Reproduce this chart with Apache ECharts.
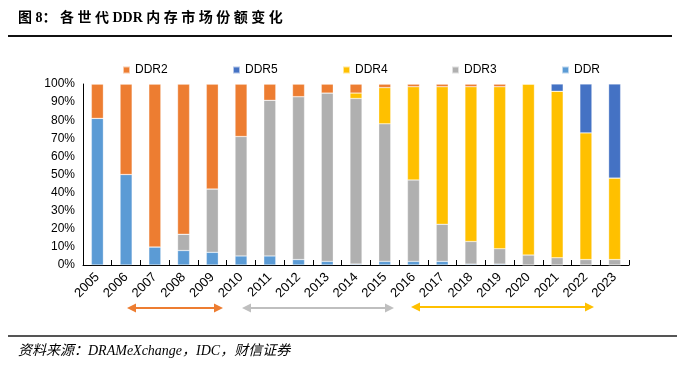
<!DOCTYPE html>
<html>
<head>
<meta charset="utf-8">
<script src="https://cdn.jsdelivr.net/npm/echarts@6/dist/echarts.min.js"></script>
<style>html,body{margin:0;padding:0;background:#fff}#c{width:677px;height:365px}</style>
</head>
<body>
<div id="c"></div>
<script>
var years = ['2005','2006','2007','2008','2009','2010','2011','2012','2013','2014','2015','2016','2017','2018','2019','2020','2021','2022','2023'];
var ddr  = [81,50,10,8,7,5,5,3,2,0.5,2,2,2,0.5,0.5,0,0,0,0];
var ddr3 = [0,0,0,9,35,66,86,90,93,91.5,76,45,20.5,12.5,8.5,5.5,4,3,3];
var ddr4 = [0,0,0,0,0,0,0,0,0,3,20,51.5,76,85.5,89.5,94.5,92,70,45];
var ddr2 = [19,50,90,83,58,29,9,7,5,5,2,1.5,1.5,1.5,1.5,0,0,0,0];
var ddr5 = [0,0,0,0,0,0,0,0,0,0,0,0,0,0,0,0,4,27,52];
var legendOrder = ['DDR2','DDR5','DDR4','DDR3','DDR'];
var titleText = '图 8： 各 世 代 DDR 内 存 市 场 份 额 变 化';
var sourceText = '资料来源：DRAMeXchange，IDC，财信证券';

var chart = echarts.init(document.getElementById('c'));
var latin = 'Liberation Sans, Arial, sans-serif';
function s(name, data, color) {
  return {name: name, type: 'bar', stack: 'all', data: data, barWidth: 12,
    itemStyle: {color: color, borderColor: 'rgba(255,255,255,0.6)', borderWidth: 0.5}};
}
function arrow(x1, x2, y, color) {
  return [
    {type: 'line', shape: {x1: x1 + 6, y1: y, x2: x2 - 6, y2: y}, style: {stroke: color, lineWidth: 2}},
    {type: 'polygon', shape: {points: [[x1, y], [x1 + 9, y - 4.5], [x1 + 9, y + 4.5]]}, style: {fill: color}},
    {type: 'polygon', shape: {points: [[x2, y], [x2 - 9, y - 4.5], [x2 - 9, y + 4.5]]}, style: {fill: color}}
  ];
}
var graphics = [
  {type: 'text', left: 18, top: 11, style: {text: titleText, font: 'bold 14px "Liberation Serif", "Noto Sans CJK SC", serif', fill: '#000'}},
  {type: 'line', shape: {x1: 8, y1: 36, x2: 672, y2: 36}, style: {stroke: '#111', lineWidth: 2}},
  {type: 'line', shape: {x1: 8, y1: 336, x2: 677, y2: 336}, style: {stroke: '#555', lineWidth: 2}},
  {type: 'text', left: 18, top: 344, style: {text: sourceText, font: 'italic 14px "Liberation Serif", "Noto Sans CJK SC", serif', fill: '#000'}}
].concat(arrow(127, 223, 308, '#ED7D31'), arrow(242, 394, 308, '#BFBFBF'), arrow(411, 594, 307, '#FFC000'));

var legendLefts = [117, 227, 337, 446, 556];
var legends = legendOrder.map(function (n, i) {
  return {data: [n], left: legendLefts[i], top: 59, itemWidth: 7, itemHeight: 7, icon: 'rect',
    textStyle: {fontFamily: latin, fontSize: 12, color: '#000'}};
});

chart.setOption({
  animation: false,
  grid: {left: 83, right: 48, top: 84, bottom: 100},
  legend: legends,
  xAxis: {
    type: 'category', data: years,
    axisLine: {lineStyle: {color: '#000', width: 1}},
    axisTick: {show: true, inside: true, length: 5, lineStyle: {color: '#000'}},
    axisLabel: {rotate: 45, fontFamily: latin, fontSize: 13, color: '#000', margin: 10, interval: 0}
  },
  yAxis: {
    type: 'value', min: 0, max: 100, interval: 10,
    axisLine: {show: true, lineStyle: {color: '#000'}},
    axisTick: {show: false},
    splitLine: {show: false},
    axisLabel: {formatter: '{value}%', fontFamily: latin, fontSize: 12, color: '#000', margin: 8}
  },
  series: [
    s('DDR', ddr, '#5B9BD5'),
    s('DDR3', ddr3, '#B0B0B0'),
    s('DDR4', ddr4, '#FFC000'),
    s('DDR2', ddr2, '#ED7D31'),
    s('DDR5', ddr5, '#4472C4')
  ],
  graphic: graphics
});
</script>
</body>
</html>
